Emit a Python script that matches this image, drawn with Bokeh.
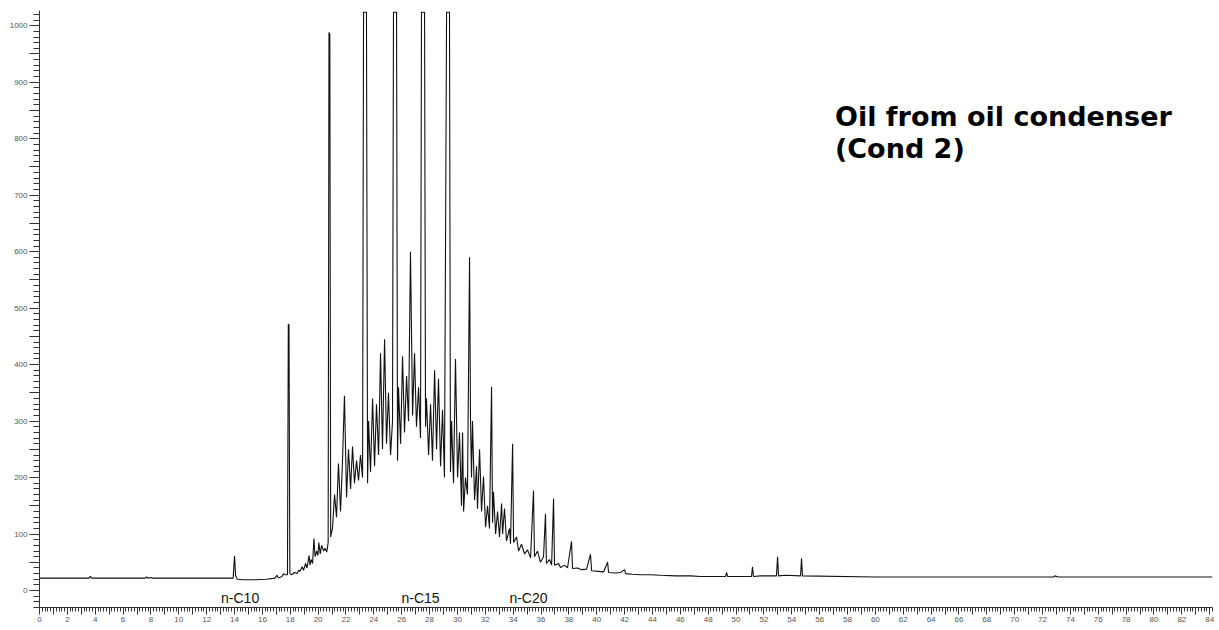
from bokeh.plotting import figure
from bokeh.models import FixedTicker, Label, CustomJSTickFormatter
from bokeh.embed import file_html
from bokeh.resources import INLINE

# Chromatogram trace: retention time (min) and detector response
retention_time = [
    0.0, 3.55, 3.65, 3.75, 7.6, 7.7, 7.8, 8.0, 8.1,
    13.9, 14.0, 14.08, 14.2, 14.6, 15.5, 16.3, 16.9, 17.05, 17.15, 17.4, 17.55, 17.62,
    17.8, 17.86, 17.91, 17.97,
    18.1, 18.3, 18.5, 18.6, 18.7, 18.85, 18.95, 19.1, 19.2, 19.35, 19.42,
    19.5, 19.6, 19.7, 19.78, 19.9, 19.98, 20.05, 20.15, 20.25, 20.4, 20.5, 20.62,
    20.72, 20.78, 20.84, 20.9,
    21.03, 21.18, 21.32, 21.46, 21.61, 21.75, 21.89, 22.04, 22.18, 22.33, 22.47, 22.61,
    22.76, 22.9, 23.04, 23.19,
    23.26, 23.47, 23.55,
    23.62, 23.76, 23.91, 24.05, 24.19, 24.34, 24.48, 24.62, 24.77, 24.91, 25.05, 25.2, 25.34,
    25.41, 25.63, 25.7,
    25.77, 25.92, 26.06, 26.2, 26.35, 26.49, 26.63, 26.78, 26.92, 27.06, 27.21, 27.35,
    27.42, 27.64, 27.71,
    27.78, 27.93, 28.07, 28.21, 28.36, 28.5, 28.64, 28.79, 28.93, 29.07,
    29.22, 29.43, 29.5,
    29.58, 29.72, 29.86, 30.01, 30.15, 30.29, 30.37, 30.44, 30.58, 30.72,
    30.87, 30.94, 31.01, 31.08, 31.23, 31.37, 31.44, 31.59, 31.73, 31.87, 32.02, 32.16, 32.3,
    32.45, 32.52, 32.59, 32.74, 32.88, 33.02, 33.17, 33.24, 33.38, 33.52, 33.74, 33.81,
    33.96, 34.03, 34.24, 34.39, 34.6, 34.82, 35.03, 35.25, 35.46, 35.53, 35.75, 35.96,
    36.18, 36.32, 36.39, 36.61, 36.76, 36.9, 36.97, 37.26, 37.4, 37.69, 37.9, 38.19, 38.26,
    38.62, 38.91, 39.27, 39.55, 39.63, 40.13, 40.49, 40.78, 40.85, 41.35, 41.71, 42.0, 42.07,
    42.57, 43.14, 43.86, 44.58, 45.66, 46.73, 47.45,
    49.25, 49.32, 49.39, 50.3, 51.11, 51.18, 51.25, 51.76, 52.9, 52.98, 53.05, 53.55,
    54.63, 54.7, 54.77, 60.0, 72.8, 72.9, 73.1, 84.2,
]
intensity = [
    22, 22, 25, 22, 22, 24, 22, 23, 22,
    22, 61, 26, 20, 19, 19, 20, 22, 27, 22, 25, 30, 28,
    28, 472, 470, 30,
    28, 32, 30, 36, 34, 42, 36, 48, 40, 62, 45,
    55, 48, 92, 60, 70, 62, 85, 65, 80, 70, 75, 68,
    85, 988, 985, 95,
    110, 170, 130, 225, 140, 230, 345, 165, 250, 180, 255, 190,
    230, 195, 240, 200,
    1024, 1024, 190,
    300, 210, 340, 220, 330, 240, 420, 250, 445, 260, 350, 240, 300,
    1024, 1024, 230,
    360, 260, 415, 280, 380, 300, 600, 310, 420, 290, 360, 270,
    1024, 1024, 290,
    340, 240, 330, 230, 390, 250, 375, 220, 320, 200,
    1024, 1024, 210,
    300, 190, 410, 200, 280, 150, 280, 140, 200, 170,
    590, 300, 200, 300, 160, 220, 145, 250, 140, 202, 112, 150, 110,
    361, 120, 175, 100, 140, 95, 154, 100, 145, 88, 110, 83,
    260, 85, 95, 70, 82, 65, 72, 58, 177, 60, 70, 50,
    60, 136, 48, 55, 45, 163, 45, 48, 41, 45, 40, 87, 39,
    40, 37, 38, 64, 35, 34, 33, 50, 32, 31, 32, 37, 30,
    29, 28, 28, 27, 26, 26, 25,
    25, 32, 25, 25, 25, 42, 25, 26, 26, 60, 26, 27,
    26, 57, 26, 24, 24, 26, 24, 24,
]

x_major_ticks = list(range(0, 85))
x_minor_ticks = [i / 5 for i in range(0, 422)]
y_major_ticks = list(range(0, 1001, 50))
y_minor_ticks = list(range(-30, 1021, 10))

peak_labels = ["n-C10", "n-C15", "n-C20"]
peak_label_times = [14.4, 27.35, 35.1]

p = figure(width=1219, height=630, x_range=(0, 84.2), y_range=(-30, 1027),
           output_backend="svg", toolbar_location=None,
           min_border_left=39, min_border_right=7, min_border_top=10, min_border_bottom=23)
p.grid.visible = False
p.outline_line_color = None
p.background_fill_color = "white"

p.line(retention_time, intensity, line_color="#111111", line_width=1.1)

# axes
p.xaxis.ticker = FixedTicker(ticks=x_major_ticks, minor_ticks=x_minor_ticks)
p.xaxis.formatter = CustomJSTickFormatter(code="return (Math.round(tick) % 2 === 0) ? Math.round(tick).toString() : '';")
p.yaxis.ticker = FixedTicker(ticks=y_major_ticks, minor_ticks=y_minor_ticks)
p.yaxis.formatter = CustomJSTickFormatter(code="return (Math.round(tick) % 100 === 0) ? Math.round(tick).toString() : '';")

for ax in (p.xaxis[0], p.yaxis[0]):
    ax.axis_line_color = "#333333"
    ax.major_tick_line_color = "#333333"
    ax.minor_tick_line_color = "#333333"
    ax.major_tick_in = 0
    ax.minor_tick_in = 0
    ax.major_label_text_font = "Liberation Sans"
    ax.major_label_text_font_size = "8px"
    ax.major_label_text_color = "#555555"
    ax.major_label_standoff = 2

p.xaxis.major_tick_out = 7
p.xaxis.minor_tick_out = 4
p.yaxis.major_tick_out = 10
p.yaxis.minor_tick_out = 6

for name, t in zip(peak_labels, peak_label_times):
    p.add_layout(Label(x=t, y=-14, text=name, text_align="center", text_baseline="alphabetic",
                       text_font="Liberation Sans", text_font_size="14px", text_color="#111111"))

p.add_layout(Label(x=57.1, y=840, text="Oil from oil condenser", text_align="left",
                   text_baseline="alphabetic", text_font="DejaVu Sans", text_font_style="bold",
                   text_font_size="27px", text_color="#000000"))
p.add_layout(Label(x=57.1, y=782, text="(Cond 2)", text_align="left",
                   text_baseline="alphabetic", text_font="DejaVu Sans", text_font_style="bold",
                   text_font_size="27px", text_color="#000000"))

open("out.html", "w").write(file_html(p, INLINE))
